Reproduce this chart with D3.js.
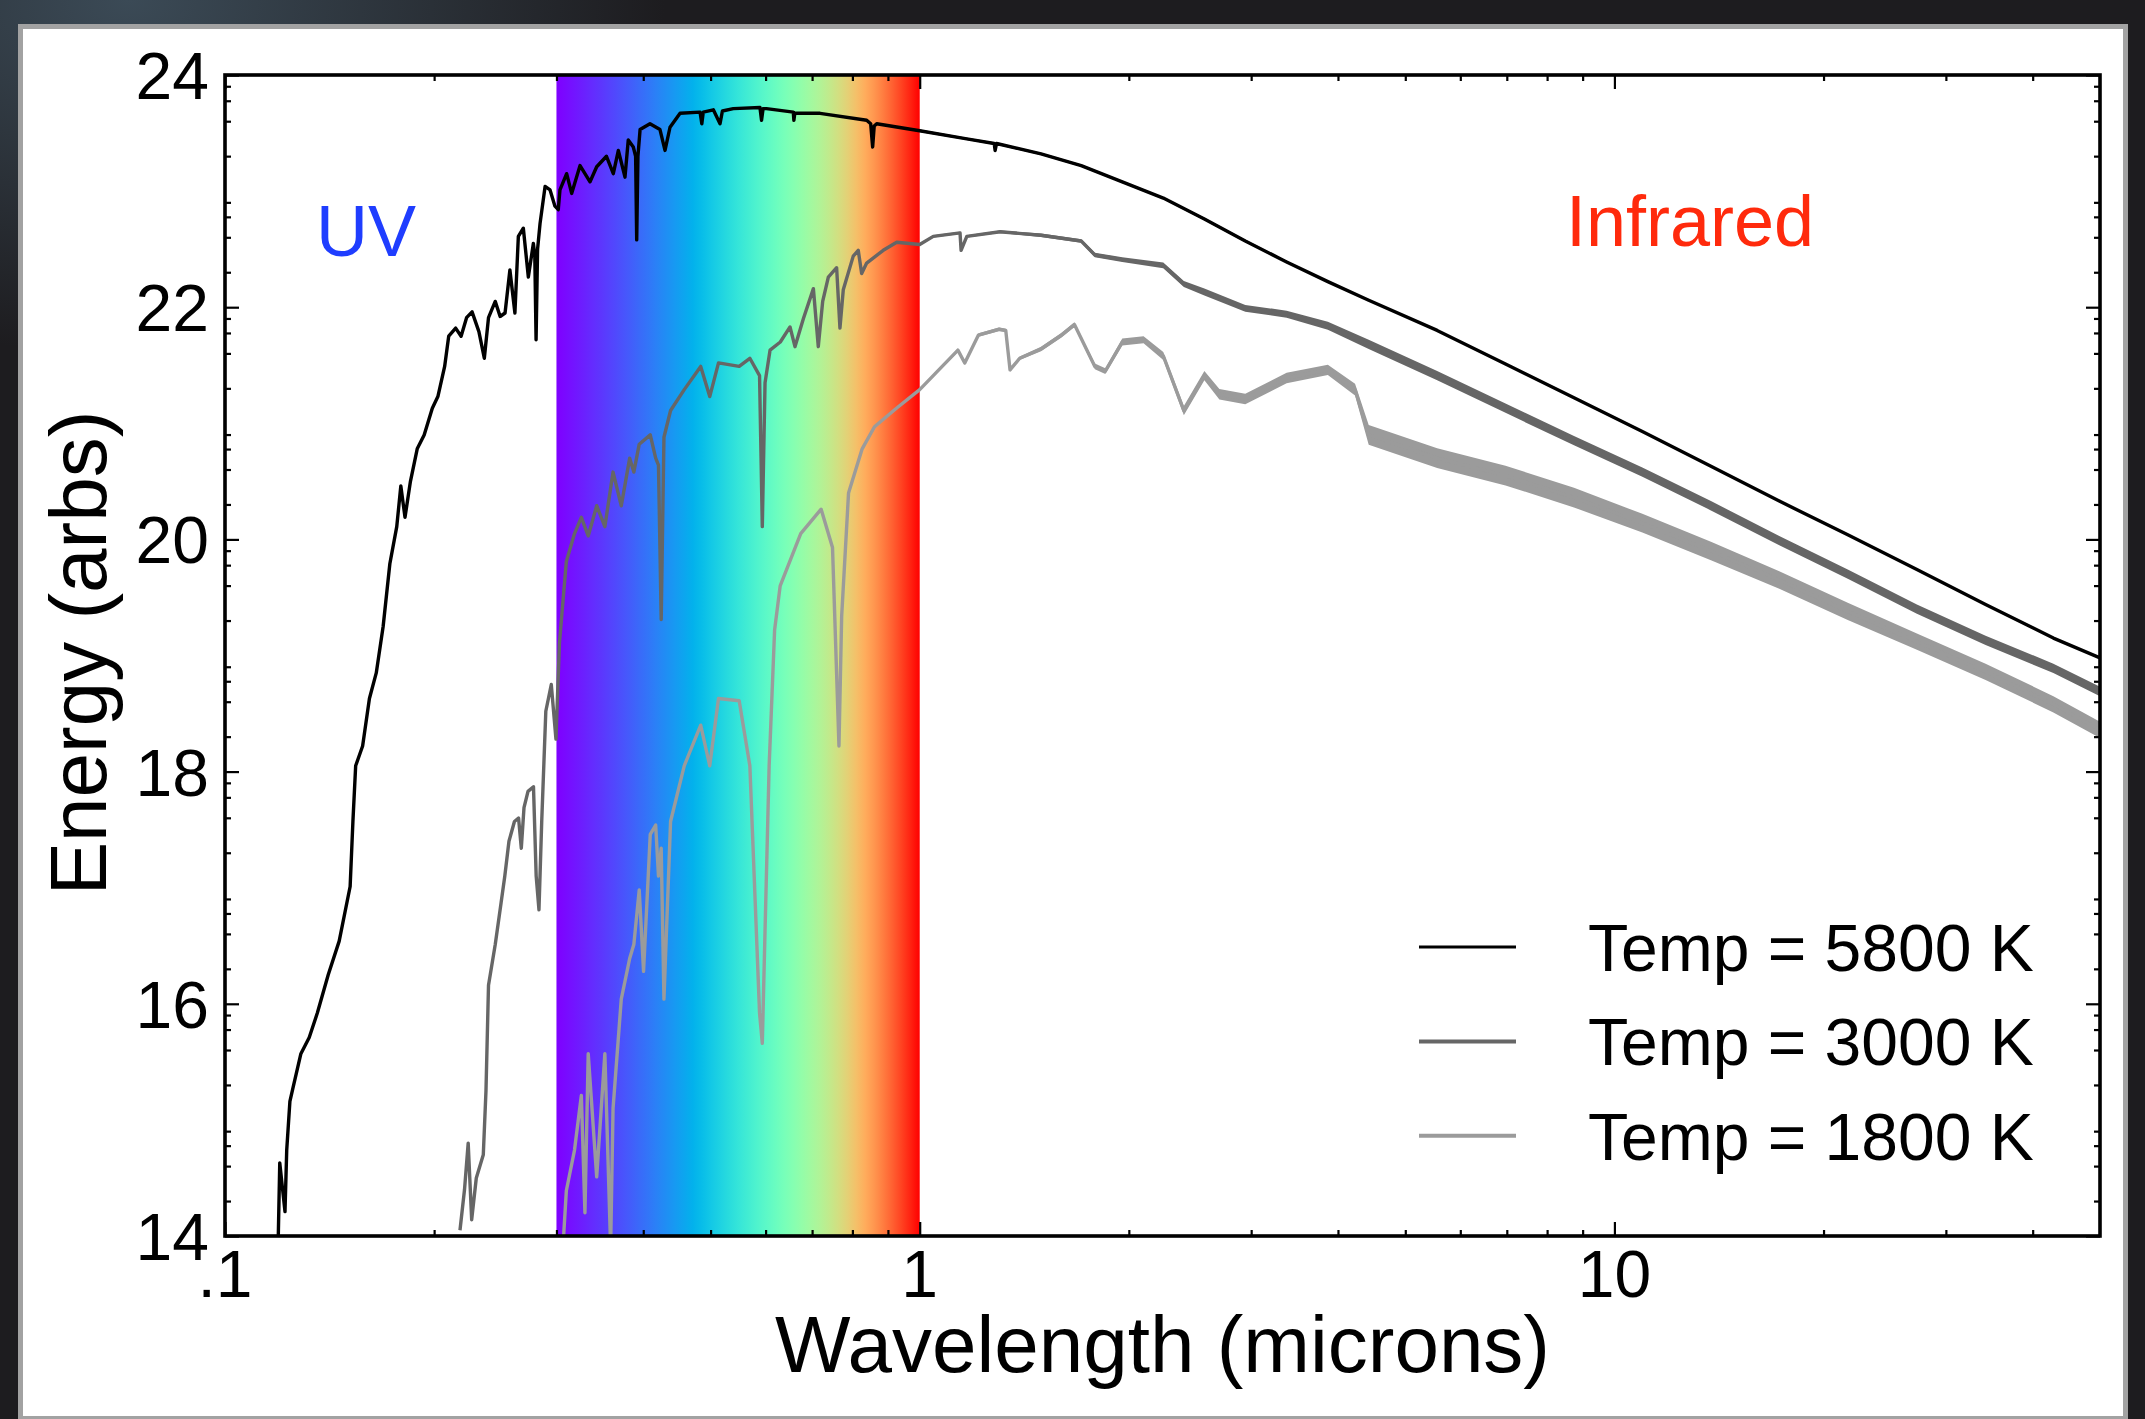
<!DOCTYPE html>
<html>
<head>
<meta charset="utf-8">
<script src="https://cdn.jsdelivr.net/npm/d3@7"></script>
<style>
  html, body { margin: 0; padding: 0; background: #1d1c1f; }
  svg { display: block; }
  text { font-family: "Liberation Sans", Arial, Helvetica, sans-serif; }
</style>
</head>
<body>
<svg id="chart"></svg>
<script>
// legend entries and line colours
const seriesNames = ["Temp = 5800 K", "Temp = 3000 K", "Temp = 1800 K"];
const seriesColors = ["#000000", "#666666", "#9b9b9b"];

// visible band (microns)
const visibleBand = [0.3, 1.0];

// axis ticks
const xMajorTicks = [0.1, 1, 10];
const xTickLabels = [".1", "1", "10"];
const yTickLabels = [14, 16, 18, 20, 22, 24];

// spectra: [wavelength (microns), energy (arbs), noise half-width]
const spec5800 = [
  [0.1193, 13.98, 0], [0.1199, 14.63, 0], [0.1220, 14.21, 0], [0.1227, 14.74, 0], [0.1240, 15.16, 0],
  [0.1252, 15.27, 0], [0.1286, 15.57, 0], [0.1322, 15.71, 0], [0.1358, 15.92, 0], [0.1408, 16.25, 0],
  [0.1460, 16.54, 0], [0.1514, 17.01, 0], [0.1528, 17.57, 0], [0.1542, 18.05, 0], [0.1578, 18.22, 0],
  [0.1614, 18.63, 0], [0.1651, 18.85, 0], [0.1689, 19.25, 0], [0.1727, 19.79, 0], [0.1767, 20.11, 0],
  [0.1791, 20.46, 0], [0.1816, 20.19, 0], [0.1849, 20.50, 0], [0.1891, 20.78, 0], [0.1935, 20.90, 0],
  [0.1988, 21.13, 0], [0.2025, 21.23, 0], [0.2071, 21.49, 0], [0.2099, 21.75, 0], [0.2148, 21.82, 0],
  [0.2187, 21.75, 0], [0.2227, 21.91, 0], [0.2268, 21.96, 0], [0.2320, 21.79, 0], [0.2362, 21.56, 0],
  [0.2395, 21.91, 0], [0.2449, 22.05, 0], [0.2489, 21.92, 0], [0.2530, 21.95, 0], [0.2571, 22.32, 0],
  [0.2614, 21.95, 0], [0.2644, 22.61, 0], [0.2688, 22.68, 0], [0.2733, 22.26, 0], [0.2779, 22.55, 0],
  [0.2792, 22.45, 0], [0.2804, 21.72, 0], [0.2818, 22.50, 0], [0.2841, 22.72, 0], [0.2889, 23.04, 0],
  [0.2937, 23.01, 0], [0.2985, 22.87, 0], [0.3018, 22.84, 0], [0.3035, 23.01, 0], [0.3103, 23.15, 0],
  [0.3155, 22.98, 0], [0.3244, 23.22, 0], [0.3353, 23.08, 0], [0.3428, 23.21, 0], [0.3541, 23.30, 0],
  [0.3622, 23.15, 0], [0.3683, 23.35, 0], [0.3765, 23.12, 0], [0.3806, 23.44, 0], [0.3870, 23.38, 0],
  [0.3900, 23.30, 0], [0.3914, 22.58, 0], [0.3930, 23.30, 0], [0.3958, 23.53, 0], [0.4090, 23.58, 0],
  [0.4228, 23.53, 0], [0.4299, 23.35, 0], [0.4371, 23.55, 0], [0.4519, 23.67, 0], [0.4829, 23.68, 0],
  [0.4857, 23.58, 0], [0.4880, 23.68, 0], [0.5046, 23.70, 0], [0.5159, 23.58, 0], [0.5200, 23.69, 0],
  [0.5391, 23.71, 0], [0.5889, 23.72, 0], [0.5920, 23.61, 0], [0.5950, 23.71, 0], [0.6017, 23.71, 0],
  [0.6577, 23.68, 0], [0.6590, 23.61, 0], [0.6610, 23.67, 0], [0.7187, 23.67, 0], [0.8388, 23.61, 0],
  [0.8500, 23.58, 0], [0.8556, 23.38, 0], [0.8600, 23.56, 0], [0.8672, 23.58, 0], [1.000, 23.52, 0.01],
  [1.169, 23.45, 0.01], [1.280, 23.41, 0.01], [1.284, 23.35, 0.01], [1.290, 23.41, 0.01], [1.495, 23.32, 0.01],
  [1.708, 23.22, 0.01], [1.957, 23.08, 0.01], [2.242, 22.94, 0.01], [2.569, 22.76, 0.01], [2.942, 22.57, 0.01],
  [3.374, 22.39, 0.01], [3.868, 22.22, 0], [4.429, 22.06, 0], [5.557, 21.80, 0], [6.970, 21.51, 0],
  [8.746, 21.22, 0], [10.97, 20.93, 0], [13.77, 20.63, 0], [17.27, 20.33, 0], [21.67, 20.04, 0],
  [27.25, 19.74, 0], [34.22, 19.44, 0], [42.84, 19.15, 0], [50.00, 18.98, 0]
];

const spec3000 = [
  [0.2179, 14.05, 0], [0.2212, 14.40, 0], [0.2239, 14.80, 0], [0.2265, 14.14, 0],
  [0.2300, 14.50, 0], [0.2354, 14.70, 0], [0.2375, 15.25, 0], [0.2395, 16.16, 0],
  [0.2449, 16.51, 0], [0.2497, 16.87, 0], [0.2528, 17.10, 0], [0.2563, 17.40, 0],
  [0.2610, 17.57, 0], [0.2646, 17.60, 0], [0.2670, 17.34, 0], [0.2694, 17.69, 0],
  [0.2730, 17.83, 0], [0.2780, 17.87, 0], [0.2805, 17.10, 0], [0.2831, 16.81, 0],
  [0.2857, 17.57, 0], [0.2896, 18.52, 0], [0.2949, 18.75, 0], [0.2995, 18.28, 0],
  [0.3030, 19.11, 0], [0.3100, 19.81, 0], [0.3185, 20.05, 0], [0.3258, 20.19, 0],
  [0.3333, 20.03, 0], [0.3428, 20.29, 0], [0.3522, 20.11, 0], [0.3619, 20.58, 0],
  [0.3719, 20.29, 0], [0.3824, 20.70, 0], [0.3877, 20.58, 0], [0.3947, 20.82, 0],
  [0.4094, 20.90, 0], [0.4168, 20.70, 0], [0.4207, 20.64, 0], [0.4245, 19.31, 0],
  [0.4284, 20.88, 0], [0.4379, 21.11, 0], [0.4582, 21.29, 0], [0.4839, 21.49, 0],
  [0.4986, 21.23, 0], [0.5133, 21.52, 0], [0.5497, 21.49, 0], [0.5695, 21.56, 0],
  [0.5881, 21.41, 0], [0.5935, 20.11, 0], [0.5989, 21.35, 0], [0.6089, 21.63, 0],
  [0.6300, 21.70, 0], [0.6506, 21.83, 0], [0.6614, 21.66, 0], [0.6800, 21.90, 0],
  [0.7030, 22.16, 0], [0.7145, 21.66, 0], [0.7250, 22.05, 0], [0.7387, 22.26, 0],
  [0.7593, 22.34, 0], [0.7677, 21.82, 0], [0.7762, 22.15, 0], [0.8023, 22.44, 0],
  [0.8157, 22.49, 0], [0.8250, 22.29, 0], [0.8388, 22.38, 0], [0.8862, 22.49, 0],
  [0.9267, 22.56, 0], [1.000, 22.54, 0.01], [1.046, 22.61, 0.01], [1.143, 22.64, 0.01],
  [1.147, 22.49, 0.01], [1.169, 22.61, 0.01], [1.305, 22.65, 0.01], [1.495, 22.62, 0.015],
  [1.708, 22.57, 0.015], [1.787, 22.45, 0.02], [1.957, 22.41, 0.02], [2.242, 22.36, 0.025],
  [2.400, 22.20, 0.025], [2.569, 22.13, 0.03], [2.942, 21.99, 0.03], [3.374, 21.94, 0.03],
  [3.868, 21.84, 0.035], [4.429, 21.68, 0.04], [5.557, 21.41, 0.04], [6.970, 21.13, 0.04],
  [8.746, 20.85, 0.04], [10.97, 20.58, 0.04], [13.77, 20.29, 0.04], [17.27, 19.99, 0.04],
  [21.67, 19.70, 0.04], [27.25, 19.40, 0.04], [34.22, 19.13, 0.04], [42.84, 18.89, 0.04],
  [50.00, 18.69, 0.04]
];

const spec1800 = [
  [0.3040, 13.95, 0], [0.3072, 14.00, 0], [0.3100, 14.39, 0], [0.3185, 14.74, 0],
  [0.3258, 15.21, 0], [0.3297, 14.20, 0], [0.3333, 15.57, 0], [0.3428, 14.51, 0],
  [0.3522, 15.57, 0], [0.3590, 13.90, 0], [0.3619, 15.10, 0], [0.3719, 16.04, 0],
  [0.3824, 16.39, 0], [0.3877, 16.51, 0], [0.3947, 16.98, 0], [0.4004, 16.28, 0],
  [0.4094, 17.46, 0], [0.4168, 17.54, 0], [0.4207, 17.10, 0], [0.4245, 17.34, 0],
  [0.4284, 16.04, 0], [0.4379, 17.57, 0], [0.4582, 18.05, 0], [0.4839, 18.40, 0],
  [0.4986, 18.05, 0], [0.5133, 18.63, 0], [0.5497, 18.61, 0], [0.5695, 18.05, 0],
  [0.5881, 15.92, 0], [0.5935, 15.66, 0], [0.5989, 16.63, 0], [0.6071, 18.05, 0],
  [0.6182, 19.22, 0], [0.6297, 19.60, 0], [0.6741, 20.05, 0], [0.7213, 20.26, 0],
  [0.7490, 19.93, 0], [0.7652, 18.22, 0], [0.7721, 19.34, 0], [0.7899, 20.40, 0],
  [0.8264, 20.78, 0], [0.8609, 20.97, 0], [0.9257, 21.13, 0], [1.000, 21.29, 0.01],
  [1.135, 21.63, 0.015], [1.161, 21.52, 0.015], [1.215, 21.76, 0.015], [1.301, 21.81, 0.015],
  [1.330, 21.80, 0.015], [1.349, 21.46, 0.015], [1.393, 21.56, 0.015], [1.495, 21.64, 0.02],
  [1.600, 21.76, 0.02], [1.670, 21.85, 0.02], [1.787, 21.49, 0.025], [1.850, 21.45, 0.025],
  [1.957, 21.70, 0.03], [2.100, 21.72, 0.03], [2.242, 21.58, 0.035], [2.400, 21.11, 0.04],
  [2.569, 21.41, 0.04], [2.700, 21.25, 0.045], [2.942, 21.21, 0.045], [3.374, 21.39, 0.045],
  [3.868, 21.46, 0.045], [4.233, 21.29, 0.05], [4.429, 20.90, 0.085], [5.557, 20.70, 0.085],
  [6.970, 20.55, 0.085], [8.746, 20.36, 0.085], [10.97, 20.14, 0.08], [13.77, 19.90, 0.08],
  [17.27, 19.65, 0.075], [21.67, 19.38, 0.075], [27.25, 19.12, 0.07], [34.22, 18.86, 0.07],
  [42.84, 18.58, 0.07], [50.00, 18.36, 0.07]
];

const W = 2145, H = 1419;
const plot = { left: 225, right: 2100, top: 75, bottom: 1236 };

const svg = d3.select("#chart").attr("width", W).attr("height", H);

// dark photo-like backdrop and the white card
const defs = svg.append("defs");
const glow = defs.append("radialGradient").attr("id", "glow")
  .attr("cx", 0.06).attr("cy", 0).attr("r", 0.25);
glow.append("stop").attr("offset", 0).attr("stop-color", "#3b4a56");
glow.append("stop").attr("offset", 1).attr("stop-color", "#1d1c1f");
svg.append("rect").attr("width", W).attr("height", H).attr("fill", "url(#glow)");
svg.append("rect")
  .attr("x", 20.5).attr("y", 26.5).attr("width", 2105).attr("height", 1392)
  .attr("fill", "#fff").attr("stroke", "#a2a2a2").attr("stroke-width", 5);

const x = d3.scaleLog().domain([0.1, 50]).range([plot.left, plot.right]);
const y = d3.scaleLinear().domain([14, 24]).range([plot.bottom, plot.top]);

defs.append("clipPath").attr("id", "plotclip").append("rect")
  .attr("x", plot.left).attr("y", plot.top)
  .attr("width", plot.right - plot.left).attr("height", plot.bottom - plot.top);

// rainbow band, colour linear in wavelength (matplotlib "rainbow")
function rainbow(t) {
  const r = Math.min(1, Math.abs(2 * t - 0.5));
  const g = Math.sin(Math.PI * t);
  const b = Math.cos(Math.PI * t / 2);
  return d3.rgb(r * 255, Math.max(0, g) * 255, Math.max(0, b) * 255).formatHex();
}
const x0 = x(visibleBand[0]), x1 = x(visibleBand[1]);
const grad = defs.append("linearGradient").attr("id", "band")
  .attr("gradientUnits", "userSpaceOnUse")
  .attr("x1", x0).attr("x2", x1).attr("y1", 0).attr("y2", 0);
d3.range(0, 41).forEach(function(i) {
  const f = i / 40;
  const lam = x.invert(x0 + f * (x1 - x0));
  const t = (lam - visibleBand[0]) / (visibleBand[1] - visibleBand[0]);
  grad.append("stop").attr("offset", f).attr("stop-color", rainbow(t));
});
svg.append("rect")
  .attr("x", x0).attr("y", plot.top)
  .attr("width", x1 - x0).attr("height", plot.bottom - plot.top)
  .attr("fill", "url(#band)");

// spectra; noisy IR parts drawn as a thin filled band round the line
const curves = svg.append("g").attr("clip-path", "url(#plotclip)");
const line = d3.line().x(d => x(d[0])).y(d => y(d[1]));
const noise = d3.area().x(d => x(d[0])).y0(d => y(d[1] - d[2])).y1(d => y(d[1] + d[2]));
const spectra = [spec5800, spec3000, spec1800];
for (let i = spectra.length - 1; i >= 0; i--) {
  const s = spectra[i];
  curves.append("path").attr("d", noise(s)).attr("fill", seriesColors[i]);
  curves.append("path").attr("d", line(s))
    .attr("fill", "none").attr("stroke", seriesColors[i])
    .attr("stroke-width", 3.4).attr("stroke-linejoin", "round");
}

// tick marks, all pointing inwards
const xMinor = [];
[0.1, 1, 10].forEach(function(dec) {
  for (let k = 2; k <= 9; k++) if (k * dec < 50) xMinor.push(k * dec);
});
const yMinor = [];
for (let n = 14; n < 24; n++) [2, 4, 6, 8].forEach(m => yMinor.push(n + Math.log10(m)));

function ticks(axis, values, size, transform) {
  const g = svg.append("g").attr("transform", transform)
    .call(axis.tickValues(values).tickSize(size).tickFormat(""));
  g.select(".domain").remove();
  g.selectAll(".tick line").attr("stroke", "#000").attr("stroke-width", 2.2);
}
ticks(d3.axisBottom(x), xMinor, -6, `translate(0,${plot.bottom})`);
ticks(d3.axisBottom(x), xMajorTicks, -14, `translate(0,${plot.bottom})`);
ticks(d3.axisTop(x), xMinor, -6, `translate(0,${plot.top})`);
ticks(d3.axisTop(x), xMajorTicks, -14, `translate(0,${plot.top})`);
ticks(d3.axisLeft(y), yMinor, -6, `translate(${plot.left},0)`);
ticks(d3.axisLeft(y), yTickLabels, -14, `translate(${plot.left},0)`);
ticks(d3.axisRight(y), yMinor, -6, `translate(${plot.right},0)`);
ticks(d3.axisRight(y), yTickLabels, -14, `translate(${plot.right},0)`);

svg.append("rect")
  .attr("x", plot.left).attr("y", plot.top)
  .attr("width", plot.right - plot.left).attr("height", plot.bottom - plot.top)
  .attr("fill", "none").attr("stroke", "#000").attr("stroke-width", 3.6);

// tick labels
svg.append("g").selectAll("text").data(xMajorTicks).join("text")
  .attr("x", d => x(d)).attr("y", plot.bottom + 61)
  .attr("text-anchor", "middle").attr("font-size", 66)
  .text((d, i) => xTickLabels[i]);
svg.append("g").selectAll("text").data(yTickLabels).join("text")
  .attr("x", plot.left - 16).attr("y", d => y(d) + 24)
  .attr("text-anchor", "end").attr("font-size", 66)
  .text(d => d);

// axis titles
svg.append("text")
  .attr("x", (plot.left + plot.right) / 2).attr("y", 1372)
  .attr("text-anchor", "middle").attr("font-size", 80)
  .text("Wavelength (microns)");
svg.append("text")
  .attr("transform", "translate(106,653) rotate(-90)")
  .attr("text-anchor", "middle").attr("font-size", 80)
  .text("Energy (arbs)");

// region labels
svg.append("text").attr("x", 316).attr("y", 256)
  .attr("font-size", 72).attr("fill", "#1f3dff").text("UV");
svg.append("text").attr("x", 1566).attr("y", 246)
  .attr("font-size", 72).attr("fill", "#ff2a0c").text("Infrared");

// legend
const legend = svg.append("g");
seriesNames.forEach(function(name, i) {
  const ly = 947 + i * 94.4;
  legend.append("line")
    .attr("x1", 1419).attr("x2", 1516).attr("y1", ly).attr("y2", ly)
    .attr("stroke", seriesColors[i]).attr("stroke-width", i == 0 ? 3 : 4);
  legend.append("text")
    .attr("x", 1588).attr("y", ly + 24)
    .attr("font-size", 66).text(name);
});
</script>
</body>
</html>
